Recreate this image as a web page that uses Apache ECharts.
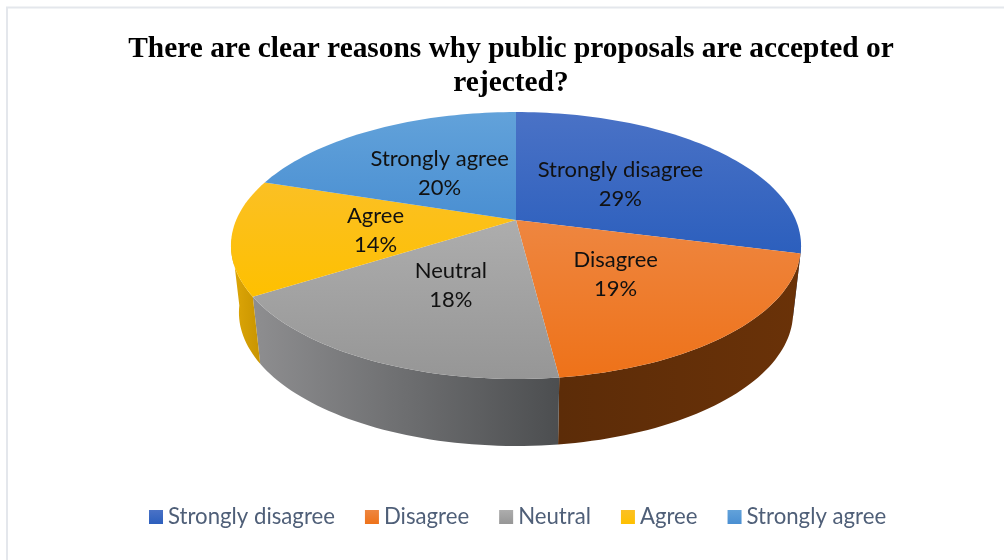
<!DOCTYPE html>
<html>
<head>
<meta charset="utf-8">
<style>html,body{margin:0;padding:0;background:#fff}#chart{width:1004px;height:560px}</style>
<script src="https://cdn.jsdelivr.net/npm/echarts@6/dist/echarts.min.js"></script>
</head>
<body>
<div id="chart"></div>
<script>
// Survey responses, in percent
const categories = ['Strongly disagree', 'Disagree', 'Neutral', 'Agree', 'Strongly agree'];
const shares = [29, 19, 18, 14, 20];

// Face and wall shading per slice: [start, end] of a gradient
const faceStops = [
  ['#4a72c6', '#2c5fbd'],
  ['#ee8640', '#ee7219'],
  ['#adadad', '#969696'],
  ['#fbc024', '#fec000'],
  ['#62a2da', '#4a8fd2']
];
const wallStops = [
  ['#2c4a80', '#2c4a80'],
  ['#5c2c08', '#6a3208'],
  ['#8e8e90', '#4c4e50'],
  ['#dfa808', '#c89400'],
  ['#3a6a94', '#3a6a94']
];

// Projection of the tilted disc on screen
const disc = { cx: 516, cy: 220, rx: 279.8, ry: 128.6, tilt: -0.191, depth: 67, baseScale: 0.972 };
const wallFrom = 100, wallTo = 262;

function project(deg, r) {
  const t = deg * Math.PI / 180;
  const x = r * Math.sin(t), y = -r * Math.cos(t);
  const d = 1 + disc.tilt * y;
  return [disc.cx + disc.rx * x / d, disc.cy + disc.ry * y / d];
}
function base(p) {
  return [disc.cx + (p[0] - disc.cx) * disc.baseScale, p[1] + disc.depth];
}
function arc(a, b) {
  const pts = [], n = Math.max(2, Math.ceil(Math.abs(b - a) / 1.5));
  for (let k = 0; k <= n; k++) pts.push(project(a + (b - a) * k / n, 1));
  return pts;
}
function grad(stops, horizontal) {
  return new echarts.graphic.LinearGradient(0, 0, horizontal ? 1 : 0, horizontal ? 0 : 1,
    [{ offset: 0, color: stops[0] }, { offset: 1, color: stops[1] }]);
}

const total = shares.reduce((s, v) => s + v, 0);

function renderSlice(params, api) {
  const i = params.seriesIndex;
  const value = api.value(0);
  const before = shares.slice(0, i).reduce((s, v) => s + v, 0);
  const a0 = before / total * 360, a1 = a0 + value / total * 360;
  const children = [];

  // Outer wall, only where it faces the viewer
  const w0 = Math.max(a0, wallFrom), w1 = Math.min(a1, wallTo);
  if (w1 > w0) {
    const rim = arc(w0, w1);
    children.push({
      type: 'polygon', z2: 1,
      shape: { points: rim.concat(rim.map(base).reverse()) },
      style: { fill: grad(wallStops[i], true) }
    });
  }

  // Top face
  children.push({
    type: 'polygon', z2: 2,
    shape: { points: [[disc.cx, disc.cy]].concat(arc(a0, a1)) },
    style: { fill: grad(faceStops[i], false) }
  });

  // Name and percentage on the face
  const mid = project((a0 + a1) / 2, 0.5);
  children.push({
    type: 'text', z2: 3,
    style: {
      x: mid[0], y: mid[1] + 2,
      text: categories[i] + '\n' + Math.round(value / total * 100) + '%',
      align: 'center', verticalAlign: 'middle',
      font: '22px Lato', lineHeight: 29, fill: '#111111'
    }
  });
  return { type: 'group', children };
}

const chart = echarts.init(document.getElementById('chart'), null, { renderer: 'canvas' });
chart.setOption({
  animation: false,
  backgroundColor: '#ffffff',
  title: {
    text: 'There are clear reasons why public proposals are accepted or\nrejected?',
    left: 506, top: 27, textAlign: 'center',
    textStyle: { fontFamily: 'Liberation Serif', fontWeight: 'bold', fontSize: 29.4, lineHeight: 34, color: '#000000' }
  },
  legend: {
    left: 144, top: 501, itemWidth: 14, itemHeight: 14, itemGap: 30, icon: 'rect',
    selectedMode: false,
    data: categories,
    textStyle: { fontFamily: 'Lato', fontSize: 22.2, color: '#4f5f78' }
  },
  graphic: [{
    type: 'rect', silent: true,
    shape: { x: 7, y: 7.5, width: 1010, height: 570 },
    style: { fill: 'none', stroke: '#e4e7ec', lineWidth: 2 }
  }],
  series: categories.map((name, i) => ({
    type: 'custom', name, coordinateSystem: 'none',
    itemStyle: { color: grad(faceStops[i], false) },
    renderItem: renderSlice,
    data: [shares[i]]
  }))
});
</script>
</body>
</html>
